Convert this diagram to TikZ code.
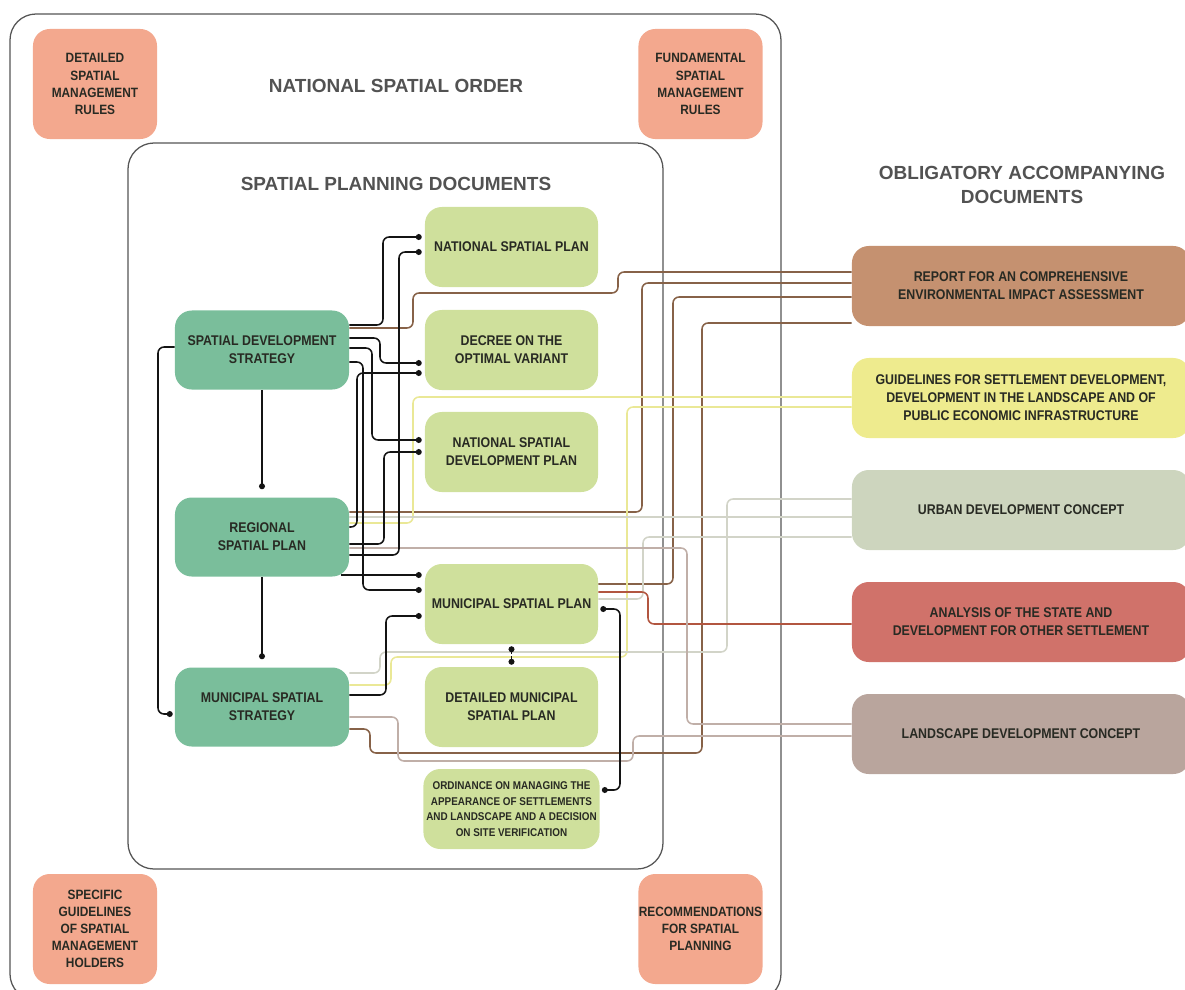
\documentclass[tikz,border=0pt]{standalone}
\usepackage{fontspec}
\setmainfont{Liberation Sans}[FakeStretch=0.88]
\newfontfamily\headfont{Liberation Sans}
\usetikzlibrary{arrows.meta,calc}

\definecolor{framegray}{RGB}{85,85,85}
\definecolor{headgray}{RGB}{82,82,82}
\definecolor{labelgray}{RGB}{40,42,35}
\definecolor{stratgreen}{RGB}{122,190,155}
\definecolor{plangreen}{RGB}{207,224,156}
\definecolor{rulesalmon}{RGB}{243,168,142}
\definecolor{repbrown}{RGB}{197,145,112}
\definecolor{guiyellow}{RGB}{238,235,142}
\definecolor{urbsage}{RGB}{205,213,190}
\definecolor{anared}{RGB}{208,114,106}
\definecolor{lantaupe}{RGB}{185,165,157}
\definecolor{linkblack}{RGB}{20,20,20}
\definecolor{linkbrown}{RGB}{135,98,72}
\definecolor{linkyellow}{RGB}{234,232,150}
\definecolor{linksage}{RGB}{210,212,200}
\definecolor{linkred}{RGB}{178,86,64}
\definecolor{linktaupe}{RGB}{192,175,168}

\begin{document}
\begin{tikzpicture}[x=0.025cm, y=-0.025cm,
    basebox/.style={rounded corners=0.42cm, align=center, text=labelgray, inner sep=2pt,
      font=\bfseries\fontsize{10}{12.8}\selectfont},
    stratbox/.style={basebox, fill=stratgreen, minimum width=4.35cm, minimum height=1.975cm},
    planbox/.style={basebox, fill=plangreen, minimum width=4.325cm, minimum height=2cm},
    docbox/.style={basebox, minimum width=8.45cm, minimum height=2cm},
    rulebox/.style={basebox, fill=rulesalmon, minimum width=3.1cm, minimum height=2.75cm,
      inner sep=0pt, font=\bfseries\fontsize{9.6}{12.2}\selectfont},
    headtext/.style={font=\headfont\bfseries\fontsize{13.5}{16.5}\selectfont, text=headgray, align=center},
    framebox/.style={draw=framegray, line width=0.9pt, rounded corners=0.65cm},
    linkbase/.style={line width=1.1pt, rounded corners=0.15cm},
    blacklink/.style={linkbase, draw=linkblack, -{Circle[length=4.2pt]}},
    bothdots/.style={linkbase, draw=linkblack, {Circle[length=4.2pt]}-{Circle[length=4.2pt]}},
    brownlink/.style={linkbase, draw=linkbrown},
    yellowlink/.style={linkbase, draw=linkyellow},
    sagelink/.style={linkbase, draw=linksage},
    redlink/.style={linkbase, draw=linkred},
    taupelink/.style={linkbase, draw=linktaupe}]

    \useasboundingbox (0,0) rectangle (1185,989);

    \draw[framebox] (10,14) rectangle (781,1000);
    \draw[framebox] (128,143) rectangle (663,869);

    \node[headtext] (nso) at (396,86) {NATIONAL SPATIAL ORDER};
    \node[headtext] (spd) at (396,184) {SPATIAL PLANNING DOCUMENTS};
    \node[headtext] (oad) at (1022,185) {OBLIGATORY ACCOMPANYING\\DOCUMENTS};

    \foreach \n/\x/\y/\t in {dtl/95/84/{DETAILED\\SPATIAL\\MANAGEMENT\\RULES},
      fnd/700.5/84/{FUNDAMENTAL\\SPATIAL\\MANAGEMENT\\RULES},
      spc/95/929/{SPECIFIC\\GUIDELINES\\OF SPATIAL\\MANAGEMENT\\HOLDERS},
      rec/700.5/929/{RECOMMENDATIONS\\FOR SPATIAL\\PLANNING}}
      \node[rulebox] (\n) at (\x,\y) {\t};

    \foreach \n/\y/\t in {sds/350/{SPATIAL DEVELOPMENT\\STRATEGY},
      rsp/537/{REGIONAL\\SPATIAL PLAN},
      mss/707/{MUNICIPAL SPATIAL\\STRATEGY}}
      \node[stratbox] (\n) at (262,\y) {\t};

    \foreach \n/\y/\t in {nsp/247/{NATIONAL SPATIAL PLAN},
      dec/350/{DECREE ON THE\\OPTIMAL VARIANT},
      nsdp/452/{NATIONAL SPATIAL\\DEVELOPMENT PLAN},
      msp/604/{MUNICIPAL SPATIAL PLAN},
      dmsp/707/{DETAILED MUNICIPAL\\SPATIAL PLAN}}
      \node[planbox] (\n) at (511.5,\y) {\t};
    \node[planbox, font=\bfseries\fontsize{8}{11}\selectfont] (ord) at (511.5,809)
      {ORDINANCE ON MANAGING THE\\APPEARANCE OF SETTLEMENTS\\AND LANDSCAPE AND A DECISION\\ON SITE VERIFICATION};

    \foreach \n/\y/\c/\t in {rep/286/repbrown/{REPORT FOR AN COMPREHENSIVE\\ENVIRONMENTAL IMPACT ASSESSMENT},
      gui/398/guiyellow/{GUIDELINES FOR SETTLEMENT DEVELOPMENT,\\DEVELOPMENT IN THE LANDSCAPE AND OF\\PUBLIC ECONOMIC INFRASTRUCTURE},
      urb/510/urbsage/{URBAN DEVELOPMENT CONCEPT},
      ana/622/anared/{ANALYSIS OF THE STATE AND\\DEVELOPMENT FOR OTHER SETTLEMENT},
      lan/734/lantaupe/{LANDSCAPE DEVELOPMENT CONCEPT}}
      \node[docbox, fill=\c] (\n) at (1021,\y) {\t};

    \draw[brownlink] ($(rep.west)+(0,-14)$) -| (618,293) -| (413,328) -- ($(sds.east)+(0,-22)$);
    \draw[brownlink] ($(rep.west)+(0,-3)$) -| (642,512) -- ($(rsp.east)+(0,-25)$);
    \draw[brownlink] ($(rep.west)+(0,11)$) -| (673,584) -- ($(msp.east)+(0,-20)$);
    \draw[brownlink] ($(rep.west)+(0,37)$) -| (702,753) -| (370,729) -- ($(mss.east)+(0,22)$);

    \draw[yellowlink] ($(gui.west)+(0,-1)$) -| (413,523) -- ($(rsp.east)+(0,-14)$);
    \draw[yellowlink] ($(gui.west)+(0,9)$) -| (627,657) -| (391,685) -- ($(mss.east)+(0,-22)$);

    \draw[sagelink] ($(urb.west)+(0,-11)$) -| (727,652) -| (380,673) -- ($(mss.east)+(0,-34)$);
    \draw[sagelink] ($(urb.west)+(0,7)$) -- ($(rsp.east)+(0,-20)$);
    \draw[sagelink] ($(urb.west)+(0,27)$) -| (643,599) -- ($(msp.east)+(0,-5)$);

    \draw[redlink] ($(ana.west)+(0,2)$) -| (648,592) -- ($(msp.east)+(0,-12)$);

    \draw[taupelink] ($(lan.west)+(0,-10)$) -| (687,548) -- ($(rsp.east)+(0,11)$);
    \draw[taupelink] ($(lan.west)+(0,2)$) -| (633,761) -| (398,717) -- ($(mss.east)+(0,10)$);

    \draw[blacklink] ($(sds.east)+(0,-25)$) -| (383,280) |- ($(nsp.west)+(-3,-10)$);
    \draw[blacklink] ($(rsp.east)+(0,18)$) -| (399,400) |- ($(nsp.west)+(-3,5)$);
    \draw[blacklink] ($(sds.east)+(0,-12)$) -| (380,350) |- ($(dec.west)+(-3,13)$);
    \draw[blacklink] ($(rsp.east)+(0,-10)$) -| (357,450) |- ($(dec.west)+(-3,23)$);
    \draw[blacklink] ($(sds.east)+(0,-2)$) -| (372,400) |- ($(nsdp.west)+(-3,-12)$);
    \draw[blacklink] ($(rsp.east)+(0,7)$) -| (384,500) |- ($(nsdp.west)+(-3,0)$);
    \draw[blacklink] ($(sds.east)+(0,12)$) -| (363,500) |- ($(msp.west)+(-3,-14)$);
    \draw[blacklink] ($(rsp.east)+(-8,38)$) -- ($(msp.west)+(-3,-29)$);
    \draw[blacklink] ($(mss.east)+(0,-12)$) -| (386,650) |- ($(msp.west)+(-3,12)$);
    \draw[bothdots] ($(msp.east)+(2,5)$) -| (620,700) |- ($(ord.east)+(2,-19)$);
    \draw[bothdots, dash pattern=on 2pt off 1.5pt] ($(msp.south)+(0,2)$) -- ($(dmsp.north)+(0,-2)$);
    \draw[blacklink] (sds.south) -- ($(rsp.north)+(0,-8)$);
    \draw[blacklink] (rsp.south) -- ($(mss.north)+(0,-8)$);
    \draw[blacklink] ($(sds.west)+(0,-3)$) -| (158,500) |- ($(mss.west)+(-2,7)$);

\end{tikzpicture}
\end{document}
